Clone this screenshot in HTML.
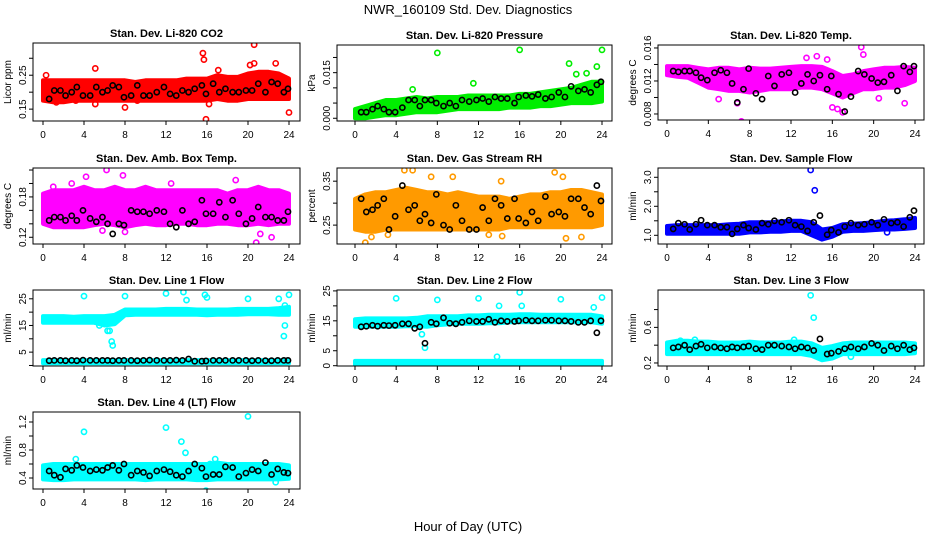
<!DOCTYPE html>
<html><head><meta charset="utf-8"><style>
body{margin:0;background:#fff}
svg text{font-family:"Liberation Sans",sans-serif}
</style></head><body>
<svg id="chart" width="936" height="540" viewBox="0 0 936 540" xmlns="http://www.w3.org/2000/svg">
<rect width="936" height="540" fill="#fff"/>
<text x="468" y="14" text-anchor="middle" font-size="13">NWR_160109  Std. Dev. Diagnostics</text>
<text x="468" y="531" text-anchor="middle" font-size="13">Hour of Day (UTC)</text>
</svg>
<script>
const bandHours=[0,1,2,3,4,5,6,7,8,9,10,11,12,13,14,15,16,17,18,19,20,21,22,23,24];
const blackHours=[0.6,1.1,1.7,2.2,2.8,3.3,3.9,4.6,5.2,5.8,6.3,6.8,7.4,7.9,8.6,9.2,9.8,10.4,11.1,11.8,12.4,13.0,13.6,14.2,14.8,15.5,15.9,16.6,17.2,17.8,18.5,19.1,19.8,20.4,21.0,21.7,22.3,22.9,23.5,23.9];
const xTicks=[0,4,8,12,16,20,24];

const p1Low=[0.175,0.17,0.17,0.175,0.175,0.175,0.175,0.175,0.175,0.175,0.175,0.175,0.175,0.175,0.175,0.175,0.175,0.18,0.175,0.175,0.18,0.18,0.18,0.18,0.18];
const p1High=[0.235,0.235,0.235,0.235,0.235,0.235,0.235,0.235,0.235,0.23,0.235,0.235,0.235,0.235,0.24,0.24,0.24,0.25,0.245,0.245,0.255,0.26,0.26,0.255,0.24];
const p1OutX=[0.3,5.1,5.1,8,9.2,15.6,15.7,15.9,16.2,20.6,20.2,20.6,22.7,24,17.1,3.2,1.3];
const p1OutY=[0.25,0.27,0.165,0.155,0.175,0.315,0.296,0.12,0.165,0.34,0.28,0.285,0.285,0.14,0.265,0.175,0.17];
const p1Black=[0.18,0.205,0.205,0.19,0.2,0.215,0.19,0.19,0.215,0.2,0.205,0.22,0.215,0.185,0.19,0.22,0.19,0.19,0.2,0.215,0.195,0.19,0.205,0.2,0.21,0.22,0.195,0.225,0.2,0.21,0.2,0.2,0.205,0.205,0.225,0.2,0.23,0.225,0.2,0.21];

const p2Low=[0.0,0.0,0.0005,0.001,0.001,0.0015,0.002,0.002,0.002,0.0025,0.003,0.003,0.003,0.003,0.003,0.0035,0.0035,0.0035,0.004,0.004,0.0045,0.005,0.005,0.005,0.0055];
const p2High=[0.003,0.004,0.005,0.006,0.006,0.0065,0.007,0.0065,0.007,0.007,0.007,0.0075,0.0075,0.0075,0.0075,0.0075,0.008,0.008,0.0085,0.009,0.0095,0.01,0.011,0.012,0.012];
const p2OutX=[8,16,20.8,24,11.5,23.5,5.6,22.5,21.5];
const p2OutY=[0.0215,0.0225,0.018,0.0225,0.0115,0.017,0.0095,0.0148,0.0145];
const p2Black=[0.002,0.002,0.003,0.004,0.003,0.002,0.002,0.0035,0.006,0.006,0.004,0.006,0.006,0.005,0.004,0.005,0.004,0.006,0.0055,0.006,0.0065,0.0055,0.007,0.0065,0.0065,0.005,0.007,0.0075,0.0072,0.0078,0.0065,0.007,0.0085,0.007,0.0105,0.009,0.0095,0.0085,0.011,0.012];

const p3Low=[0.0127,0.0125,0.0124,0.0118,0.0112,0.011,0.0108,0.0108,0.0106,0.0108,0.011,0.011,0.011,0.0112,0.0112,0.011,0.0105,0.0100,0.0105,0.011,0.011,0.0112,0.0112,0.0115,0.012];
const p3High=[0.0138,0.0138,0.0138,0.0136,0.0134,0.0136,0.0136,0.0134,0.0136,0.0135,0.0135,0.0136,0.0137,0.0138,0.0138,0.0137,0.0132,0.0126,0.0128,0.0132,0.0134,0.0136,0.0136,0.0137,0.0136];
const p3OutX=[7.2,5,6.8,16,16.5,17,18.8,19,13.5,14.5,23,20.5,15.5];
const p3OutY=[0.0071,0.0098,0.0093,0.0088,0.0086,0.0082,0.0161,0.0152,0.0148,0.0150,0.0093,0.0099,0.0146];
const p3Black=[0.0132,0.0131,0.0132,0.0132,0.013,0.0124,0.0121,0.013,0.0133,0.013,0.0117,0.0094,0.011,0.0135,0.0105,0.0098,0.0126,0.0114,0.0128,0.013,0.0106,0.0117,0.0128,0.012,0.0127,0.0110,0.0126,0.0104,0.0083,0.0101,0.0132,0.0128,0.0123,0.0118,0.0119,0.0127,0.0108,0.0138,0.0131,0.0138];

const p4Low=[0.14,0.135,0.135,0.135,0.135,0.138,0.14,0.138,0.135,0.138,0.14,0.138,0.138,0.14,0.14,0.138,0.138,0.14,0.14,0.138,0.138,0.14,0.138,0.14,0.14];
const p4High=[0.185,0.19,0.19,0.19,0.195,0.19,0.19,0.195,0.19,0.19,0.195,0.19,0.19,0.19,0.19,0.19,0.19,0.19,0.185,0.19,0.19,0.195,0.19,0.19,0.185];
const p4OutX=[1,4.2,6.2,7.8,18.8,21.2,20.8,22.3,5.8,8,2.8,12.5];
const p4OutY=[0.195,0.21,0.22,0.212,0.205,0.125,0.112,0.12,0.13,0.128,0.2,0.2];
const p4Black=[0.145,0.15,0.15,0.145,0.152,0.145,0.16,0.148,0.143,0.15,0.14,0.125,0.14,0.138,0.16,0.158,0.158,0.155,0.16,0.158,0.14,0.135,0.16,0.14,0.143,0.175,0.155,0.155,0.172,0.15,0.175,0.155,0.14,0.148,0.165,0.15,0.15,0.145,0.145,0.158];

const p5Low=[0.24,0.235,0.235,0.24,0.24,0.24,0.24,0.24,0.24,0.24,0.24,0.24,0.24,0.24,0.24,0.245,0.245,0.245,0.245,0.245,0.245,0.245,0.245,0.245,0.25];
const p5High=[0.31,0.32,0.325,0.325,0.33,0.335,0.33,0.325,0.325,0.32,0.325,0.32,0.315,0.315,0.315,0.31,0.315,0.32,0.32,0.325,0.325,0.33,0.33,0.325,0.32];
const p5OutX=[1,1.6,5.6,4.8,13,14.3,19.4,22,20.5,3.2,7.4,9.5,20.2,14.2];
const p5OutY=[0.21,0.223,0.375,0.375,0.228,0.225,0.37,0.223,0.22,0.228,0.36,0.36,0.36,0.35];
const p5Black=[0.31,0.28,0.285,0.295,0.31,0.24,0.27,0.34,0.285,0.295,0.26,0.275,0.255,0.32,0.25,0.24,0.295,0.26,0.24,0.24,0.29,0.26,0.31,0.295,0.265,0.31,0.265,0.255,0.28,0.26,0.315,0.275,0.28,0.27,0.31,0.31,0.29,0.275,0.34,0.305];

const p6Low=[1.05,1.05,1.05,1.05,1.05,1.05,1.05,1.05,1.1,1.1,1.12,1.12,1.15,1.15,1.0,0.85,0.95,1.12,1.15,1.15,1.18,1.2,1.2,1.22,1.25];
const p6High=[1.32,1.35,1.35,1.35,1.35,1.35,1.38,1.4,1.45,1.45,1.45,1.48,1.5,1.5,1.45,1.2,1.25,1.38,1.4,1.42,1.45,1.5,1.52,1.55,1.6];
const p6OutX=[13.9,14.3,21.3];
const p6OutY=[3.25,2.55,1.1];
const p6Black=[1.22,1.42,1.38,1.2,1.38,1.52,1.35,1.35,1.28,1.28,1.05,1.22,1.35,1.25,1.2,1.42,1.38,1.5,1.45,1.52,1.35,1.3,1.15,1.45,1.68,1.02,1.18,1.1,1.3,1.42,1.35,1.38,1.45,1.35,1.55,1.42,1.45,1.3,1.62,1.85];

const p7Low=[16,16,16,16,16,16,15,15.5,18.8,19,19,19,19,19,19,19,18.8,19,19,19,19.2,19.2,19.2,19,19];
const p7High=[18.5,18.5,18.5,18.3,18.5,18.5,18.5,19,21,21,21,21,21.2,21.2,21.2,21,21,21,21,21.2,21.2,21.2,21.2,21.5,22];
const p7Low2=[0.8,0.8,0.8,0.8,0.8,0.8,0.8,0.8,0.8,0.8,0.8,0.8,0.8,0.8,0.8,0.8,0.8,0.8,0.8,0.8,0.8,0.8,0.8,0.8,0.8];
const p7High2=[2,2,2,2,2,2,2,2,2,2,2,2,2,2,2,2,2,2,2,2,2,2,2,2,2];
const p7OutX=[4,8,12,13.7,14,15.8,16,20,23,24,6.7,6.8,6.3,6.5,23.5,23.6,23.6,5.5];
const p7OutY=[26,26,27,27.5,24.5,26.5,25.5,25,25,26.5,9,7.5,13,13,11,15,22.5,15];
const p7Black=[1.8,1.9,1.9,1.8,1.9,1.8,2.0,1.9,1.9,1.9,1.9,1.8,1.9,1.9,1.9,1.8,1.9,2.0,1.9,1.9,1.9,2.0,1.9,2.4,1.6,1.6,1.7,1.9,1.9,1.9,1.9,1.9,1.9,1.8,1.9,1.8,1.8,1.9,1.9,1.9];

const p8Low=[13,13,13,13,13,13.2,13.2,13,13.5,13.8,14,14,14,14.2,14.2,14.5,14.5,14.5,14.5,14.5,14.5,14.5,14.5,14.5,14];
const p8High=[15.5,15.8,15.8,15.8,15.8,15.8,16,16.5,16.5,16.5,16.5,16.8,16.8,17,17,17,17.2,17.2,17,17,17,17,17,17,16.5];
const p8Low2=[0.3,0.3,0.3,0.3,0.3,0.3,0.3,0.3,0.3,0.3,0.3,0.3,0.3,0.3,0.3,0.3,0.3,0.3,0.3,0.3,0.3,0.3,0.3,0.3,0.3];
const p8High2=[1.6,1.6,1.6,1.6,1.6,1.6,1.6,1.6,1.6,1.6,1.6,1.6,1.6,1.6,1.6,1.6,1.6,1.6,1.6,1.6,1.6,1.6,1.6,1.6,1.6];
const p8OutX=[4,8,12,16,16.2,20,23.2,24,14,6.5,6.8,13.8];
const p8OutY=[22.5,22,22.5,24.5,20,22.2,19.5,22.8,20,10.5,6,3];
const p8Black=[13,13.2,13.5,13.2,13.5,13.4,13.5,14,14,12.5,13,7.5,14.5,14,16,14.2,14,14.5,15,14.8,14.8,15.5,14.5,15,14.8,14.8,15,15.2,15,15,15.2,15.2,15,15,14.8,14.5,14.5,15,11,15];

const p9Low=[0.3,0.3,0.3,0.3,0.3,0.3,0.3,0.3,0.3,0.3,0.3,0.3,0.3,0.3,0.28,0.23,0.25,0.3,0.3,0.3,0.3,0.3,0.3,0.3,0.31];
const p9High=[0.43,0.45,0.45,0.44,0.44,0.43,0.43,0.43,0.44,0.43,0.43,0.43,0.44,0.44,0.42,0.37,0.39,0.42,0.43,0.43,0.43,0.43,0.43,0.43,0.42];
const p9OutX=[13.9,14.2,1.3,2.7,12.3,17.8];
const p9OutY=[0.96,0.71,0.45,0.46,0.46,0.27];
const p9Black=[0.37,0.38,0.4,0.35,0.39,0.41,0.37,0.38,0.37,0.36,0.38,0.37,0.38,0.39,0.36,0.35,0.4,0.4,0.39,0.38,0.36,0.38,0.37,0.34,0.47,0.3,0.31,0.33,0.36,0.38,0.36,0.38,0.42,0.4,0.34,0.39,0.36,0.4,0.35,0.37];

const p10Low=[0.38,0.37,0.37,0.38,0.38,0.38,0.38,0.38,0.38,0.38,0.37,0.38,0.38,0.38,0.38,0.37,0.37,0.38,0.38,0.38,0.38,0.38,0.38,0.38,0.39];
const p10High=[0.58,0.6,0.6,0.6,0.6,0.6,0.6,0.6,0.6,0.6,0.6,0.6,0.6,0.6,0.6,0.6,0.6,0.62,0.6,0.6,0.6,0.6,0.6,0.6,0.58];
const p10OutX=[4,12,13.5,13.9,20,15.9,16.3,3.2,16.8,22.7];
const p10OutY=[1.06,1.12,0.92,0.76,1.28,0.22,0.6,0.67,0.67,0.34];
const p10Black=[0.5,0.44,0.41,0.53,0.51,0.58,0.55,0.5,0.52,0.51,0.55,0.58,0.51,0.6,0.44,0.5,0.48,0.43,0.5,0.52,0.49,0.44,0.42,0.5,0.6,0.54,0.42,0.45,0.45,0.56,0.55,0.42,0.47,0.52,0.5,0.62,0.45,0.53,0.48,0.47];

const p1Ticks=[0.15,0.20,0.25,0.30], p1Labels=["0.15","","0.25",""];
const p2Ticks=[0,0.005,0.01,0.015,0.02], p2Labels=["0.000","","","0.015",""];
const p3Ticks=[0.008,0.010,0.012,0.014,0.016], p3Labels=["0.008","","0.012","","0.016"];
const p4Ticks=[0.12,0.14,0.16,0.18,0.20,0.22], p4Labels=["0.12","","","0.18","",""];
const p5Ticks=[0.25,0.30,0.35], p5Labels=["0.25","","0.35"];
const p6Ticks=[1.0,1.5,2.0,2.5,3.0], p6Labels=["1.0","","2.0","","3.0"];
const p7Ticks=[0,5,10,15,20,25], p7Labels=["","5","","15","","25"];
const p8Ticks=[0,5,10,15,20,25], p8Labels=["0","5","","15","","25"];
const p9Ticks=[0.2,0.4,0.6,0.8], p9Labels=["0.2","","0.6",""];
const p10Ticks=[0.4,0.6,0.8,1.0,1.2], p10Labels=["0.4","","0.8","","1.2"];

const svg=document.getElementById('chart');
const NS='http://www.w3.org/2000/svg';
function mk(tag,attrs,parent){const e=document.createElementNS(NS,tag);for(const k in attrs)e.setAttribute(k,attrs[k]);(parent||svg).appendChild(e);return e;}

const panels=[
 {name:'co2',title:'Stan. Dev. Li-820 CO2',yl:'Licor ppm',box:[33,43,300,121],x0:43,x24:289,ymin:0.115,ymax:0.345,color:'#ff0000',bands:[[p1Low,p1High]],ox:p1OutX,oy:p1OutY,black:p1Black,ticks:p1Ticks,labels:p1Labels},
 {name:'pressure',title:'Stan. Dev. Li-820 Pressure',yl:'kPa',box:[337,45,612,121],x0:355,x24:602,ymin:-0.0009,ymax:0.0241,color:'#00ee00',bands:[[p2Low,p2High]],ox:p2OutX,oy:p2OutY,black:p2Black,ticks:p2Ticks,labels:p2Labels},
 {name:'temp',title:'Stan. Dev. Li-820 Temp.',yl:'degrees C',box:[658,45,924,120],x0:667,x24:915,ymin:0.00727,ymax:0.01636,color:'#ff00ff',bands:[[p3Low,p3High]],ox:p3OutX,oy:p3OutY,black:p3Black,ticks:p3Ticks,labels:p3Labels},
 {name:'amb-box-temp',title:'Stan. Dev. Amb. Box Temp.',yl:'degrees C',box:[33,168,300,244],x0:43,x24:289,ymin:0.110,ymax:0.223,color:'#ff00ff',bands:[[p4Low,p4High]],ox:p4OutX,oy:p4OutY,black:p4Black,ticks:p4Ticks,labels:p4Labels},
 {name:'gas-rh',title:'Stan. Dev. Gas Stream RH',yl:'percent',box:[337,168,612,244],x0:355,x24:602,ymin:0.207,ymax:0.38,color:'#ff9a00',bands:[[p5Low,p5High]],ox:p5OutX,oy:p5OutY,black:p5Black,ticks:p5Ticks,labels:p5Labels},
 {name:'sample-flow',title:'Stan. Dev. Sample Flow',yl:'ml/min',box:[658,168,924,244],x0:667,x24:915,ymin:0.70,ymax:3.32,color:'#0000ff',bands:[[p6Low,p6High]],ox:p6OutX,oy:p6OutY,black:p6Black,ticks:p6Ticks,labels:p6Labels},
 {name:'line1-flow',title:'Stan. Dev. Line 1 Flow',yl:'ml/min',box:[33,290,300,366],x0:43,x24:289,ymin:-0.2,ymax:28.3,color:'#00ffff',bands:[[p7Low,p7High],[p7Low2,p7High2]],ox:p7OutX,oy:p7OutY,black:p7Black,ticks:p7Ticks,labels:p7Labels},
 {name:'line2-flow',title:'Stan. Dev. Line 2 Flow',yl:'ml/min',box:[337,290,612,366],x0:355,x24:602,ymin:-0.1,ymax:25.3,color:'#00ffff',bands:[[p8Low,p8High],[p8Low2,p8High2]],ox:p8OutX,oy:p8OutY,black:p8Black,ticks:p8Ticks,labels:p8Labels},
 {name:'line3-flow',title:'Stan. Dev. Line 3 Flow',yl:'ml/min',box:[658,290,924,366],x0:667,x24:915,ymin:0.166,ymax:1.02,color:'#00ffff',bands:[[p9Low,p9High]],ox:p9OutX,oy:p9OutY,black:p9Black,ticks:p9Ticks,labels:p9Labels},
 {name:'line4-flow',title:'Stan. Dev. Line 4 (LT) Flow',yl:'ml/min',box:[33,412,300,489],x0:43,x24:289,ymin:0.243,ymax:1.343,color:'#00ffff',bands:[[p10Low,p10High]],ox:p10OutX,oy:p10OutY,black:p10Black,ticks:p10Ticks,labels:p10Labels}
];

panels.forEach(p=>{
 const [L,T,R,B]=p.box;
 const g=mk('g',{});
 
 
 const xs=h=>p.x0+(p.x24-p.x0)*h/24;
 const ys=v=>B-(v-p.ymin)/(p.ymax-p.ymin)*(B-T);
 const clip='clip-'+p.name;
 const cp=mk('clipPath',{id:clip},g);mk('rect',{x:L,y:T,width:R-L,height:B-T},cp);
 const data=mk('g',{'clip-path':'url(#'+clip+')'},g);
 p.bands.forEach(([lo,hi])=>{
  let d='';
  bandHours.forEach((h,i)=>{d+=(i?'L':'M')+xs(h).toFixed(1)+','+ys(hi[i]).toFixed(1);});
  for(let i=bandHours.length-1;i>=0;i--)d+='L'+xs(bandHours[i]).toFixed(1)+','+ys(lo[i]).toFixed(1);
  const band=mk('path',{d:d+'Z',fill:p.color,stroke:p.color,'stroke-width':4,'stroke-linejoin':'round'},data);
  
  
 });
 p.ox.forEach((x,i)=>{
  const c=mk('circle',{cx:xs(x),cy:ys(p.oy[i]),r:2.6,fill:'none',stroke:p.color,'stroke-width':1.6},data);
  
  
 });
 blackHours.forEach((h,i)=>{
  const c=mk('circle',{cx:xs(h),cy:ys(p.black[i]),r:2.6,fill:'none',stroke:'#000','stroke-width':1.6},data);
  
  
 });
 const frame=mk('rect',{x:L,y:T,width:R-L,height:B-T,fill:'none',stroke:'#000','stroke-width':1},g);
 
 
 const t=mk('text',{x:(L+R)/2,y:T-6,'text-anchor':'middle','font-size':11,'font-weight':'bold'},g);
 t.textContent=p.title;
 
 
 xTicks.forEach(h=>{
  mk('line',{x1:xs(h),x2:xs(h),y1:B,y2:B+4,stroke:'#000'},g);
  const tl=mk('text',{x:xs(h),y:B+17,'text-anchor':'middle','font-size':10},g);
  tl.textContent=h;
  
  
 });
 p.ticks.forEach((v,i)=>{
  const y=ys(v);
  mk('line',{x1:L-4,x2:L,y1:y,y2:y,stroke:'#000'},g);
  if(p.labels[i]){
   const yl=mk('text',{x:0,y:0,'text-anchor':'middle','font-size':10,transform:'translate('+(L-7)+','+y+') rotate(-90)'},g);
   yl.textContent=p.labels[i];
   
   
  }
 });
 const yt=mk('text',{x:0,y:0,'text-anchor':'middle','font-size':10,transform:'translate('+(L-22)+','+((T+B)/2)+') rotate(-90)'},g);
 yt.textContent=p.yl;
 
 
});
</script>
</body></html>
